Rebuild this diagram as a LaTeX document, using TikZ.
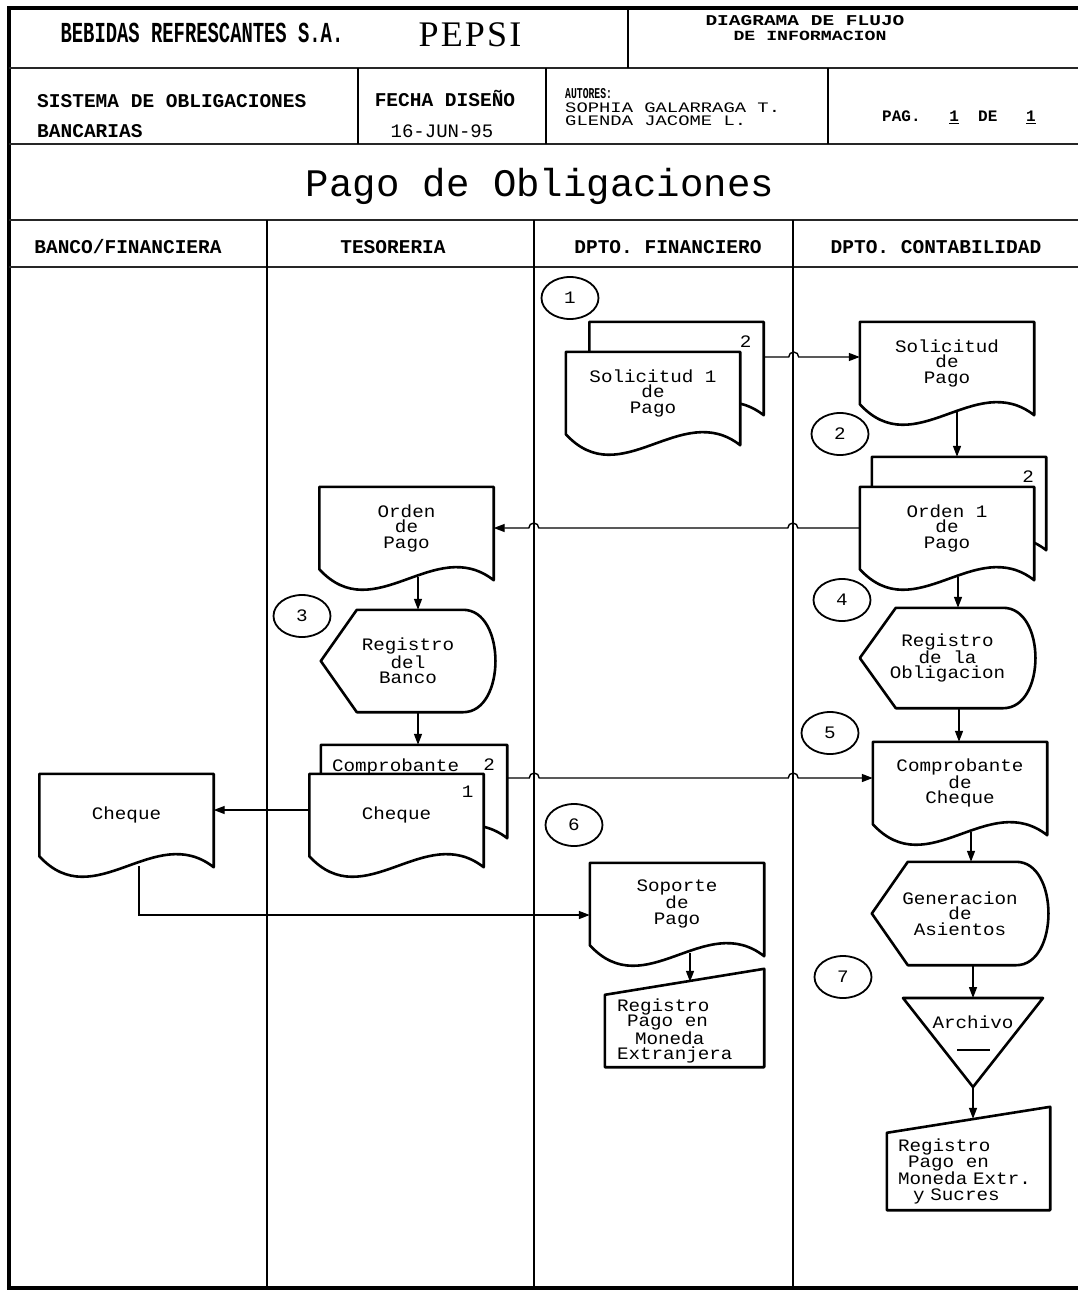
\documentclass[tikz,border=0pt]{standalone}
\usepackage{fontspec}
\usetikzlibrary{shapes.geometric,arrows.meta}
\newfontfamily\plotfont{Liberation Mono}
\newfontfamily\docfont[FakeStretch=1.1]{Liberation Mono}
\newfontfamily\tallfont[FakeStretch=0.65]{Liberation Mono}
\newfontfamily\widefont[FakeStretch=1.3]{Liberation Mono}
\newfontfamily\pepsifont[LetterSpace=6]{Liberation Serif}
\newcommand{\docsize}{\fontsize{17.5}{15.5}\selectfont}
\newcommand{\headsize}{\fontsize{19.5}{15}\selectfont}

\begin{document}
\begin{tikzpicture}[x=1pt,y=-1pt,>={Triangle[length=11pt,width=8pt]}]
  \tikzstyle{shapeLine}=[line width=2.6pt, line join=round]
  \tikzstyle{flowLine}=[line width=1.4pt]
  \tikzstyle{laneLine}=[line width=1.2pt]
  \tikzstyle{rowLine}=[line width=2.4pt, black!85]
  \tikzstyle{emptyStyle}=[inner sep=0pt, font={\docfont\docsize}]
  \tikzstyle{headStyle}=[inner sep=0pt, anchor=base, font={\plotfont\bfseries\headsize}]
  \tikzstyle{circleStyle}=[ellipse, draw, line width=1.8pt, minimum width=57pt, minimum height=42pt, inner sep=0pt, font={\docfont\docsize}]
  \tikzstyle{copyStyle}=[anchor=north east, inner sep=0pt, xshift=-12pt, yshift=-14pt, font={\docfont\docsize}]
  \tikzstyle{docStyle}=[minimum width=174pt, minimum height=82pt, inner sep=2pt, align=center, font={\docfont\docsize},
    append after command={\pgfextra{\draw[shapeLine, fill=white] (\tikzlastnode.south west) -- (\tikzlastnode.north west)
      -- (\tikzlastnode.north east) -- ([yshift=-11pt]\tikzlastnode.south east)
      .. controls ([xshift=-59pt,yshift=35pt]\tikzlastnode.south east) and ([xshift=55pt,yshift=-60pt]\tikzlastnode.south west)
      .. (\tikzlastnode.south west) -- cycle;}}]
  \tikzstyle{displayStyle}=[minimum width=175pt, minimum height=102pt, inner sep=2pt, align=center, font={\docfont\docsize},
    append after command={\pgfextra{\draw[shapeLine, fill=white] (\tikzlastnode.west) -- ([xshift=36pt]\tikzlastnode.north west)
      -- ([xshift=-32pt]\tikzlastnode.north east)
      .. controls ([xshift=11pt]\tikzlastnode.north east) and ([xshift=11pt]\tikzlastnode.south east)
      .. ([xshift=-32pt]\tikzlastnode.south east) -- ([xshift=36pt]\tikzlastnode.south west) -- cycle;}}]
  \tikzstyle{manualStyle}=[inner sep=0pt, align=left, font={\docfont\docsize},
    append after command={\pgfextra{\draw[shapeLine] (\tikzlastnode.south west) -- (\tikzlastnode.north west)
      -- ([yshift=26pt]\tikzlastnode.north east) -- (\tikzlastnode.south east) -- cycle;}}]
  \tikzstyle{archivoStyle}=[inner sep=1pt, font={\docfont\docsize},
    append after command={\pgfextra{\draw[shapeLine] ([xshift=-70pt,yshift=24pt]\tikzlastnode.center)
      -- ([xshift=70pt,yshift=24pt]\tikzlastnode.center) -- ([yshift=-65pt]\tikzlastnode.center) -- cycle;
      \draw[line width=1.6pt] ([xshift=-16pt,yshift=-28pt]\tikzlastnode.center) -- ([xshift=17pt,yshift=-28pt]\tikzlastnode.center);}}]

  \useasboundingbox (0,0) rectangle (1078,1295);
  \fill[white] (0,0) rectangle (1078,1295);

  % marco
  \draw[line width=4pt] (1100,8) -- (9,8) -- (9,1288) -- (1100,1288);
  \draw[rowLine] (9,68) -- (1100,68);
  \draw[rowLine] (9,144) -- (1100,144);
  \draw[rowLine] (9,220) -- (1100,220);
  \draw[rowLine] (9,267) -- (1100,267);
  \draw[laneLine] (628,8) -- (628,68);
  \draw[laneLine] (358,68) -- (358,144);
  \draw[laneLine] (546,68) -- (546,144);
  \draw[laneLine] (828,68) -- (828,144);
  \draw[laneLine] (267,220) -- (267,1288);
  \draw[laneLine] (534,220) -- (534,1288);
  \draw[laneLine] (793,220) -- (793,1288);

  \begin{scope}
    \node[headStyle, font={\tallfont\bfseries\fontsize{29}{29}\selectfont}](empresa) at (202,43) {BEBIDAS REFRESCANTES S.A.};
    \node[headStyle, font={\pepsifont\fontsize{36}{36}\selectfont}](pepsi) at (470,47) {PEPSI};
    \node[headStyle, font={\widefont\bfseries\fontsize{15}{15}\selectfont}](diagrama) at (805,26) {DIAGRAMA DE FLUJO};
    \node[headStyle, font={\widefont\bfseries\fontsize{14}{14}\selectfont}](informacion) at (810,41) {DE INFORMACION};
    \node[headStyle, anchor=base west](sistema) at (37,108) {SISTEMA DE OBLIGACIONES};
    \node[headStyle, anchor=base west](bancarias) at (37,137) {BANCARIAS};
    \node[headStyle](fecha) at (445,107) {FECHA DISEÑO};
    \node[headStyle, font={\plotfont\fontsize{19}{15}\selectfont}](fechaValor) at (442,137) {16-JUN-95};
    \node[headStyle, anchor=base west, font={\tallfont\bfseries\fontsize{15}{15}\selectfont}](autores) at (565,99) {AUTORES:};
    \node[headStyle, anchor=base west, font={\widefont\fontsize{14.5}{14.5}\selectfont}](autor1) at (565,113) {SOPHIA GALARRAGA T.};
    \node[headStyle, anchor=base west, font={\widefont\fontsize{14.5}{14.5}\selectfont}](autor2) at (565,126) {GLENDA JACOME L.};
    \node[headStyle, anchor=base west, font={\plotfont\bfseries\fontsize{16}{16}\selectfont}](pagina) at (882,122) {PAG.\ \ \ \underline{1}\ \ DE\ \ \ \underline{1}};
    \node[headStyle, font={\plotfont\fontsize{39}{39}\selectfont}](titulo) at (540,196) {Pago de Obligaciones};
    \node[headStyle](banco) at (128,253) {BANCO/FINANCIERA};
    \node[headStyle](tesoreria) at (393,253) {TESORERIA};
    \node[headStyle](financiero) at (668,253) {DPTO. FINANCIERO};
    \node[headStyle](contabilidad) at (936,253) {DPTO. CONTABILIDAD};
  \end{scope}

  \begin{scope}
    \node[circleStyle](paso1) at (570,298) {1};
    \node[docStyle, label={[copyStyle]north east:2}](solCopia) at (676.5,363) {};
    \node[docStyle](solOriginal) at (653,393) {Solicitud 1\\de\\Pago};
    \node[docStyle](solPago) at (947,363) {Solicitud\\de\\Pago};
   \draw[flowLine,->] ([yshift=6pt]solCopia.east) -- ++(25,0) arc[start angle=180,end angle=0,radius=5pt] -- ([yshift=6pt]solPago.west);

    \node[circleStyle](paso2) at (840,434) {2};
    \node[docStyle, label={[copyStyle]north east:2}](ordCopia) at (959,498) {};
   \draw[flowLine,->] ([xshift=10pt,yshift=-8pt]solPago.south) -- ([xshift=-2pt]ordCopia.north);
    \node[docStyle](ordOriginal) at (947,528) {Orden 1\\de\\Pago};
    \node[docStyle](ordPago) at (406.5,528) {Orden\\de\\Pago};
   \draw[flowLine,->] (ordOriginal.west) -- ++(-62,0) arc[start angle=0,end angle=180,radius=5pt] -- ++(-249,0) arc[start angle=0,end angle=180,radius=5pt] -- (ordPago.east);

    \node[circleStyle](paso3) at (302,616) {3};
    \node[displayStyle, minimum width=174pt](regBanco) at (408,661) {Registro\\del\\Banco};
   \draw[flowLine,->] ([xshift=11.5pt,yshift=-8pt]ordPago.south) -- ([xshift=10pt]regBanco.north);

    \node[circleStyle](paso4) at (842,600) {4};
    \node[displayStyle, minimum height=100pt](regOblig) at (947.5,658) {Registro\\de la\\Obligacion};
   \draw[flowLine,->] ([xshift=11pt,yshift=-8pt]ordOriginal.south) -- ([xshift=10.5pt]regOblig.north);

    \node[docStyle, minimum width=186pt, label={[copyStyle]north east:2},
      label={[anchor=north west, inner sep=0pt, xshift=11pt, yshift=-14pt, font={\docfont\docsize}]north west:Comprobante}](compCopia) at (414,786) {};
   \draw[flowLine,->] ([xshift=10pt]regBanco.south) -- ([xshift=4pt]compCopia.north);
    \node[docStyle, label={[copyStyle, xshift=2pt, yshift=2pt]north east:1}](chqOriginal) at (396.5,815) {Cheque};
    \node[docStyle](chqBanco) at (126.5,815) {Cheque};
   \draw[flowLine,->] ([yshift=5pt]chqOriginal.west) -- ([yshift=5pt]chqBanco.east);

    \node[circleStyle](paso5) at (830,733) {5};
    \node[docStyle](compCheque) at (960,783) {Comprobante\\de\\Cheque};
   \draw[flowLine,->] ([xshift=11.5pt]regOblig.south) -- ([xshift=-1pt]compCheque.north);
   \draw[flowLine,->] ([yshift=8pt]compCopia.east) -- ++(22,0) arc[start angle=180,end angle=0,radius=5pt] -- ++(249,0) arc[start angle=180,end angle=0,radius=5pt] -- ([yshift=5pt]compCheque.west);

    \node[circleStyle](paso6) at (574,825) {6};
    \node[docStyle](soporte) at (677,904) {Soporte\\de\\Pago};
   \draw[flowLine,->] ([xshift=12.5pt,yshift=-10pt]chqBanco.south) |- ([yshift=-11pt]soporte.west);
    \node[manualStyle, minimum width=159pt, minimum height=72pt, text width=135pt](regPagoExt) at (684.5,1031) {Registro\\\hspace*{10pt}Pago\ \ en\\\hspace*{18pt}Moneda\\Extranjera};
   \draw[flowLine,->] ([xshift=13pt,yshift=-8pt]soporte.south) -- ([xshift=5.5pt,yshift=13pt]regPagoExt.north);

    \node[displayStyle, minimum width=176pt, minimum height=103pt](genAsientos) at (960,913.5) {Generacion\\de\\Asientos};
   \draw[flowLine,->] ([xshift=11pt,yshift=-8pt]compCheque.south) -- ([xshift=11pt]genAsientos.north);

    \node[circleStyle](paso7) at (843,977) {7};
    \node[archivoStyle](archivo) at (973,1022) {Archivo};
   \draw[flowLine,->] ([xshift=13pt]genAsientos.south) -- ([yshift=24pt]archivo.center);
    \node[manualStyle, minimum width=163pt, minimum height=77pt, text width=141pt](regPagoSucres) at (968.5,1171.5) {Registro\\\hspace*{10pt}Pago\ \ en\\Moneda Extr.\\\hspace*{15pt}y Sucres};
   \draw[flowLine,->] ([yshift=-65pt]archivo.center) -- ([xshift=4.5pt,yshift=14pt]regPagoSucres.north);
  \end{scope}

\end{tikzpicture}
\end{document}
